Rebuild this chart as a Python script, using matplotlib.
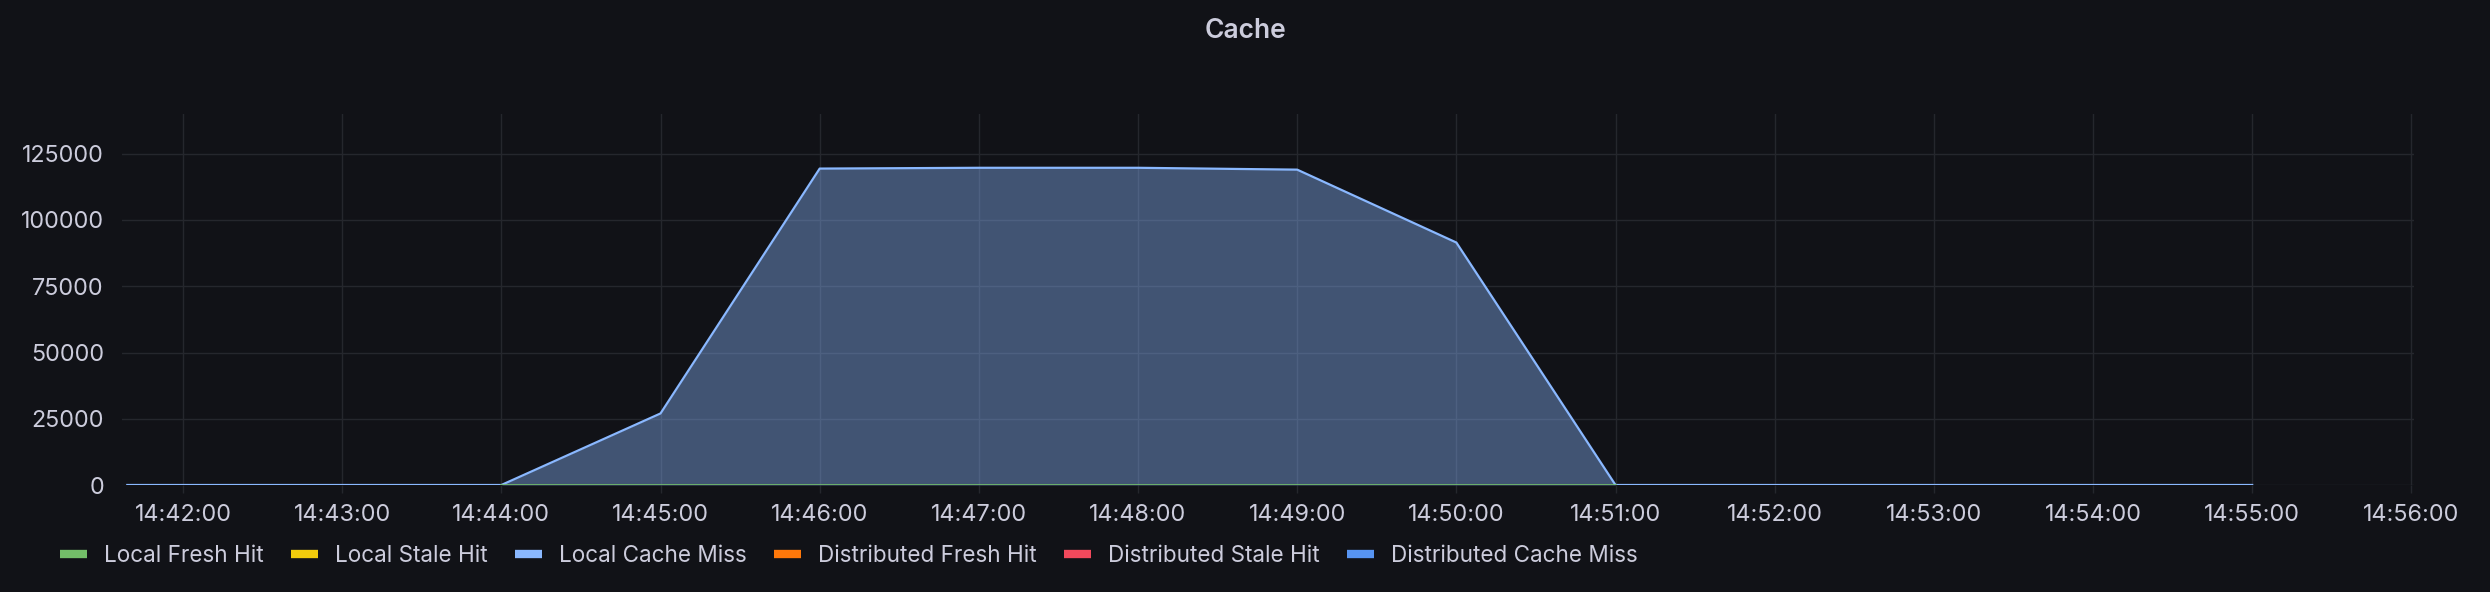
"""
Grafana-Panel "Cache" als matplotlib-Nachbau.
"""

from datetime import datetime

import matplotlib
matplotlib.use("Agg")
import matplotlib.pyplot as plt
import matplotlib.dates as mdates
from matplotlib.lines import Line2D

DAY = "2024-01-01 "

# Local Cache Miss (hellblau, mit Flaeche)
miss_times = ["14:41:39", "14:42:00", "14:43:00", "14:44:00", "14:45:00", "14:46:00",
              "14:47:00", "14:48:00", "14:49:00", "14:50:00", "14:51:00", "14:52:00",
              "14:53:00", "14:54:00", "14:55:00"]
miss_values = [0, 0, 0, 0, 27000, 119400, 119700, 119700, 119000, 91500, 0, 0, 0, 0, 0]

# Local Fresh Hit (gruen, nur im mittleren Bereich, immer 0)
fresh_times = ["14:44:00", "14:45:00", "14:46:00", "14:47:00", "14:48:00",
               "14:49:00", "14:50:00", "14:51:00"]
fresh_values = [0, 0, 0, 0, 0, 0, 0, 0]

series_names = ["Local Fresh Hit", "Local Stale Hit", "Local Cache Miss",
                "Distributed Fresh Hit", "Distributed Stale Hit", "Distributed Cache Miss"]
series_colors = ["#73BF69", "#F2CC0C", "#8AB8FF", "#FF780A", "#F2495C", "#5794F2"]

x_start = "14:41:37"
x_end = "14:56:01"
y_max = 140000

BG = "#111217"
TEXT = "#ccccdc"
GRID = "#25272d"


def t(s):
    return datetime.strptime(DAY + s, "%Y-%m-%d %H:%M:%S")


plt.rcParams["font.family"] = ["Inter", "DejaVu Sans"]

fig = plt.figure(figsize=(24.9, 5.92), dpi=100, facecolor=BG)
ax = fig.add_axes([122 / 2490, 1 - 485 / 592, (2414 - 122) / 2490, (485 - 114) / 592])
ax.set_facecolor(BG)

mt = [t(s) for s in miss_times]
ax.fill_between(mt, miss_values, color="#8AB8FF", alpha=0.4, linewidth=0, zorder=2)
ax.plot(mt, miss_values, color="#8AB8FF", linewidth=1.6, zorder=3)
ax.plot([t(s) for s in fresh_times], fresh_values, color="#73BF69", linewidth=1.2, zorder=4)

ax.set_xlim(t(x_start), t(x_end))
ax.set_ylim(0, y_max)
ax.set_yticks([0, 25000, 50000, 75000, 100000, 125000])
ax.xaxis.set_major_locator(mdates.MinuteLocator())
ax.xaxis.set_major_formatter(mdates.DateFormatter("%H:%M:%S"))

ax.grid(True, color=GRID, linewidth=1.0, zorder=1)
for s in ax.spines.values():
    s.set_visible(False)
ax.tick_params(axis="x", colors=GRID, length=6, width=1.0, labelsize=16.8,
               labelcolor=TEXT, pad=8)
ax.tick_params(axis="y", length=0, labelsize=16.8, labelcolor=TEXT, pad=13)

fig.text(0.5, 1 - 31 / 592, "Cache", ha="center", va="center", color=TEXT,
         fontsize=19, fontweight="semibold")

handles = [Line2D([], [], color=c, linewidth=6, solid_capstyle="butt") for c in series_colors]
leg = fig.legend(handles, series_names, loc="center left", bbox_to_anchor=(60 / 2490, 1 - 556 / 592),
                 ncol=6, frameon=False, fontsize=16.2, labelcolor=TEXT, handlelength=1.2,
                 handletextpad=0.75, columnspacing=1.22, borderaxespad=0, borderpad=0)

fig.savefig("out.png", dpi=100, facecolor=BG)
